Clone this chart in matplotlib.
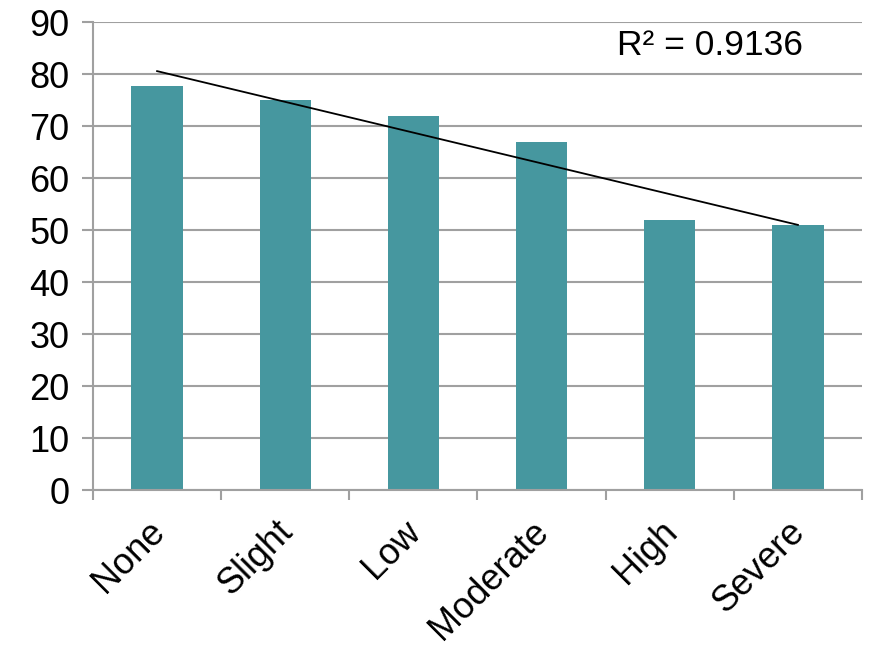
import numpy as np
import matplotlib.pyplot as plt
from matplotlib.transforms import ScaledTranslation

plt.rcParams['font.family'] = ['Liberation Sans', 'DejaVu Sans']

categories = ['None', 'Slight', 'Low', 'Moderate', 'High', 'Severe']
values = [77.6, 75, 72, 67, 52, 51]
r2_label = 'R² = 0.9136'

fig = plt.figure(figsize=(8.69, 6.48), dpi=100)
ax = fig.add_axes([93 / 869, 1 - 490 / 648, (862 - 93) / 869, (490 - 22) / 648])

x = np.arange(len(categories))
ax.bar(x, values, width=0.4, color='#46979F', zorder=2)

# linear trend line, like Excel's
slope, intercept = np.polyfit(x, values, 1)
ax.plot(x, slope * x + intercept, color='black', lw=1.3, zorder=3)
ax.text(0.802, 0.949, r2_label, transform=ax.transAxes, fontsize=25.5,
        ha='center', va='center')

ax.set_xlim(-0.5, len(categories) - 0.5)
ax.set_ylim(0, 90)
ax.set_yticks(range(0, 91, 10))
ax.grid(axis='y', color='#A0A0A0', lw=1.5, zorder=0)
ax.set_axisbelow(True)

# rotated category labels, nudged a bit off the category centre
ax.set_xticks(x)
ax.set_xticklabels([])
offset = ScaledTranslation(0.02, -0.36, fig.dpi_scale_trans)
for xi, cat in zip(x, categories):
    ax.text(xi, 0, cat, transform=ax.get_xaxis_transform() + offset,
            rotation=45, ha='right', va='center', rotation_mode='anchor',
            fontsize=26)
ax.set_xticks(np.arange(-0.5, len(categories)), minor=True)
ax.tick_params(axis='x', which='major', length=0)
ax.tick_params(axis='x', which='minor', length=7, width=1.5, color='#A0A0A0')
ax.tick_params(axis='y', length=8, width=1.5, color='#A0A0A0', labelsize=26, pad=9)

for side in ['top', 'right']:
    ax.spines[side].set_visible(False)
for side in ['left', 'bottom']:
    ax.spines[side].set_color('#A0A0A0')
    ax.spines[side].set_linewidth(1.5)

fig.savefig('out.png', dpi=100)
